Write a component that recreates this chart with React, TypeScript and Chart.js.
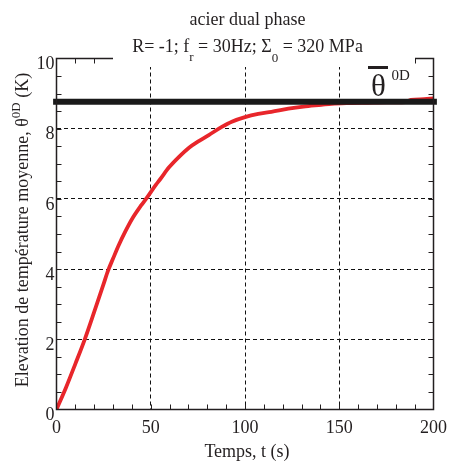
import React, { useEffect, useRef } from "react";
import { Chart, registerables } from "chart.js";
Chart.register(...registerables);

const timeS = [0, 5, 10, 15, 20, 25, 27.3, 30, 33, 36.6, 40, 45, 47.5, 52.7, 55, 59.7, 65, 70.3, 75, 80.8, 87.7, 93, 100, 107, 114, 123, 131, 140.5, 146, 155, 165, 175, 185, 188, 195, 200];
const tempK = [0, 0.62, 1.3, 2.0, 2.78, 3.58, 3.95, 4.3, 4.68, 5.08, 5.42, 5.82, 6.0, 6.4, 6.56, 6.9, 7.2, 7.46, 7.63, 7.82, 8.05, 8.2, 8.33, 8.42, 8.48, 8.57, 8.63, 8.68, 8.71, 8.73, 8.74, 8.75, 8.76, 8.82, 8.84, 8.86];
const meanLevel = 8.77;
const meanSpan = [-1.8, 201.8];
const xTicks = [0, 50, 100, 150, 200];
const yTicks = [0, 2, 4, 6, 8, 10];
const xMinorStep = 10;
const yMinorStep = 0.5;

const INK = "#231f20";
const SERIF = "'Liberation Serif', 'Times New Roman', serif";

const decorPlugin = {
  id: "decor",
  afterDraw(chart: any) {
    const ctx = chart.ctx as CanvasRenderingContext2D;
    const { left, right, top, bottom } = chart.chartArea;
    const xs = chart.scales.x;
    const ys = chart.scales.y;
    ctx.save();
    ctx.strokeStyle = INK;
    ctx.lineWidth = 1.5;
    ctx.strokeRect(left, top, right - left, bottom - top);
    ctx.lineWidth = 1;
    ctx.beginPath();
    for (let v = xMinorStep; v < 200; v += xMinorStep) {
      const px = Math.round(xs.getPixelForValue(v)) + 0.5;
      ctx.moveTo(px, bottom);
      ctx.lineTo(px, bottom - 5);
      ctx.moveTo(px, top);
      ctx.lineTo(px, top + 5);
    }
    for (let v = yMinorStep; v < 10; v += yMinorStep) {
      const py = Math.round(ys.getPixelForValue(v)) + 0.5;
      ctx.moveTo(left, py);
      ctx.lineTo(left + 5, py);
      ctx.moveTo(right, py);
      ctx.lineTo(right - 5, py);
    }
    ctx.stroke();

    ctx.fillStyle = "#ffffff";
    ctx.fillRect(113, 36, 302, 31);

    ctx.fillStyle = INK;
    ctx.textBaseline = "alphabetic";
    ctx.font = `18px ${SERIF}`;
    ctx.textAlign = "center";
    ctx.fillText("acier dual phase", 247.5, 25);

    const parts: [string, number, number][] = [
      ["R= -1; f", 18, 0],
      ["r", 13, 9],
      [" = 30Hz; \u03A3", 18, 0],
      ["0", 13, 10],
      [" = 320 MPa", 18, 0],
    ];
    ctx.textAlign = "left";
    let total = 0;
    for (const [t, s] of parts) {
      ctx.font = `${s}px ${SERIF}`;
      total += ctx.measureText(t).width;
    }
    let cx = 247.5 - total / 2;
    for (const [t, s, dy] of parts) {
      ctx.font = `${s}px ${SERIF}`;
      ctx.fillText(t, cx, 51.5 + dy);
      cx += ctx.measureText(t).width;
    }

    ctx.font = `18px ${SERIF}`;
    ctx.textAlign = "center";
    ctx.fillText("Temps, t (s)", 247, 457);

    const yparts: [string, number, number][] = [
      ["Elevation de temp\u00e9rature moyenne, \u03B8", 18, 0],
      ["0D", 13, -8],
      [" (K)", 18, 0],
    ];
    ctx.save();
    ctx.translate(28, 230);
    ctx.rotate(-Math.PI / 2);
    ctx.textAlign = "left";
    let tw = 0;
    for (const [t, s] of yparts) {
      ctx.font = `${s}px ${SERIF}`;
      tw += ctx.measureText(t).width;
    }
    let yx = -tw / 2;
    for (const [t, s, dy] of yparts) {
      ctx.font = `${s}px ${SERIF}`;
      ctx.fillText(t, yx, dy);
      yx += ctx.measureText(t).width;
    }
    ctx.restore();

    ctx.textAlign = "left";
    ctx.font = `31px ${SERIF}`;
    ctx.fillText("\u03B8", 371, 96);
    ctx.fillRect(368, 66, 20, 3);
    ctx.font = `15px ${SERIF}`;
    ctx.fillText("0D", 391.5, 80);

    ctx.restore();
  },
};

export default function App() {
  const ref = useRef<HTMLCanvasElement | null>(null);
  useEffect(() => {
    if (!ref.current) return;
    const chart = new Chart(ref.current, {
      type: "line",
      data: {
        datasets: [
          {
            label: "moyenne",
            data: meanSpan.map((t) => ({ x: t, y: meanLevel })),
            borderColor: "#1a1a1a",
            borderWidth: 6,
            pointRadius: 0,
            clip: false as any,
          },
          {
            label: "essai",
            data: timeS.map((t, i) => ({ x: t, y: tempK[i] })),
            borderColor: "#e8262b",
            borderWidth: 3.8,
            pointRadius: 0,
            cubicInterpolationMode: "monotone",
          },
        ],
      },
      options: {
        animation: false,
        responsive: false,
        maintainAspectRatio: false,
        events: [],
        layout: { padding: { left: 0, right: 18.5, top: 58.5, bottom: 0 } },
        plugins: { legend: { display: false }, tooltip: { enabled: false }, title: { display: false } },
        scales: {
          x: {
            type: "linear",
            min: 0,
            max: 200,
            afterBuildTicks: (s: any) => {
              s.ticks = xTicks.map((v) => ({ value: v }));
            },
            afterFit: (s: any) => {
              s.height = 57.5;
            },
            border: { display: false, dash: [4, 3] },
            grid: { color: "#111", lineWidth: 1, drawTicks: false },
            ticks: {
              padding: 8,
              color: INK,
              font: { family: SERIF, size: 18 },
              maxRotation: 0,
              autoSkip: false,
            },
          },
          y: {
            type: "linear",
            min: 0,
            max: 10,
            afterBuildTicks: (s: any) => {
              s.ticks = yTicks.map((v) => ({ value: v }));
            },
            afterFit: (s: any) => {
              s.width = 56.5;
            },
            border: { display: false, dash: [4, 3] },
            grid: { color: "#111", lineWidth: 1, drawTicks: false },
            ticks: {
              padding: 2,
              labelOffset: 6,
              color: INK,
              font: { family: SERIF, size: 18 },
              autoSkip: false,
            },
          },
        },
      },
      plugins: [decorPlugin],
    } as any);
    return () => chart.destroy();
  }, []);
  return (
    <div style={{ position: "fixed", left: 0, top: 0, width: 455, height: 467, background: "#fff" }}>
      <canvas ref={ref} width={455} height={467} style={{ width: 455, height: 467 }} />
    </div>
  );
}
